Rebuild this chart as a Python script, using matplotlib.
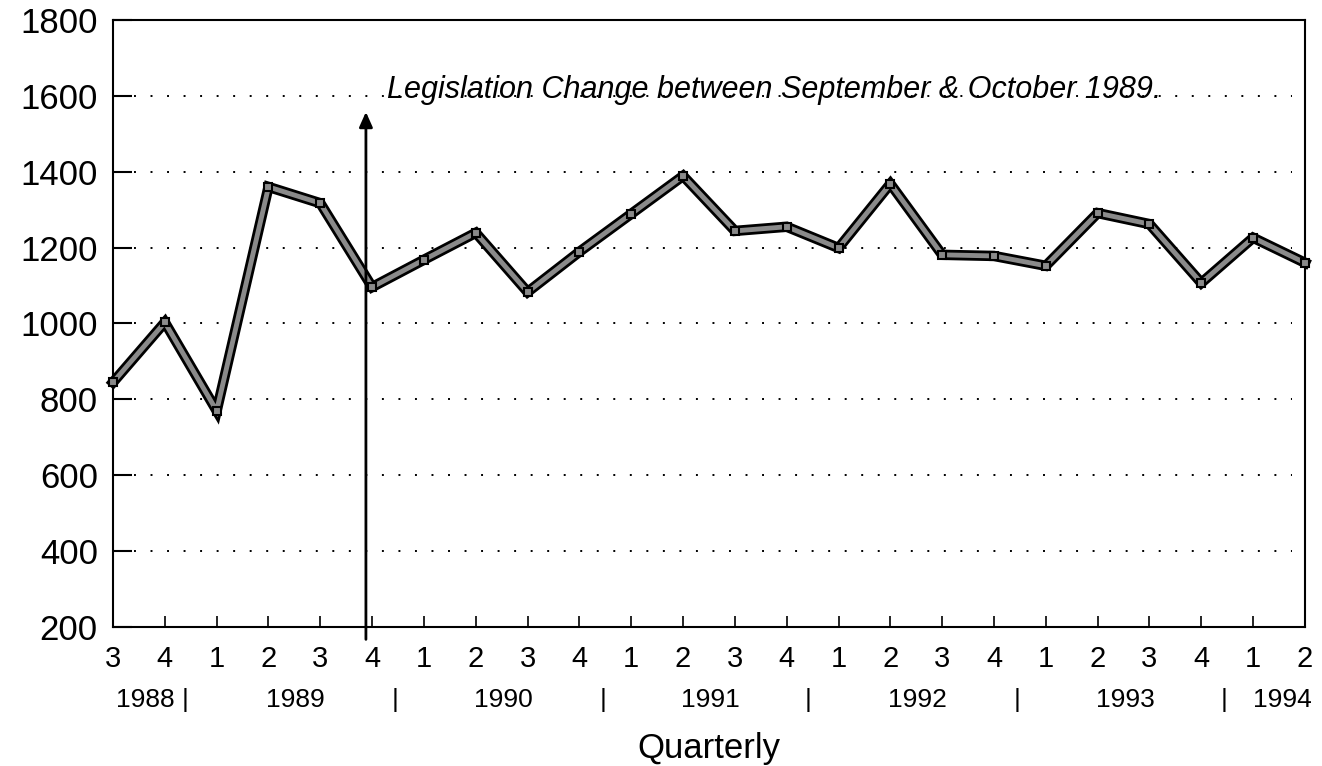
import matplotlib
matplotlib.use('Agg')
import matplotlib.pyplot as plt

plt.rcParams['font.family'] = ['Liberation Sans', 'DejaVu Sans']

# quarterly values, Q3 1988 .. Q2 1994
quarters = ['3', '4', '1', '2', '3', '4', '1', '2', '3', '4', '1', '2',
            '3', '4', '1', '2', '3', '4', '1', '2', '3', '4', '1', '2']
values = [845, 1003, 770, 1360, 1317, 1096, 1168, 1239, 1083, 1189, 1289, 1389,
          1244, 1255, 1199, 1368, 1181, 1178, 1152, 1291, 1262, 1107, 1226, 1160]
years = ['1988', '1989', '1990', '1991', '1992', '1993', '1994']
year_pos = [0.62, 3.51, 7.53, 11.53, 15.52, 19.54, 22.57]
sep_pos = [1.39, 5.44, 9.46, 13.42, 17.45, 21.43]
yticks = [200, 400, 600, 800, 1000, 1200, 1400, 1600, 1800]

x = list(range(len(values)))

fig = plt.figure(figsize=(13.22, 7.66), dpi=100)
ax = fig.add_axes([0.0855, 0.1815, 0.9016, 0.7924])

# dotted grid
ax.hlines(yticks[1:-1], 0.4, 22.75, colors='black', linestyles=(0, (1, 7.5)), linewidth=1.4)

# thick outlined line
ax.plot(x, values, color='black', linewidth=7.5, solid_joinstyle='miter', clip_on=False, zorder=3)
ax.plot(x, values, color='#8a8a8a', linewidth=3.5, solid_joinstyle='miter', clip_on=False, zorder=4)
ax.plot(x, values, linestyle='none', marker='s', markersize=6, markerfacecolor='#8a8a8a',
        markeredgecolor='black', markeredgewidth=1.5, clip_on=False, zorder=5)

# legislation marker
ax.annotate('', xy=(4.88, 1565), xytext=(4.88, 160), xycoords='data',
            arrowprops=dict(arrowstyle='-|>,head_length=0.9,head_width=0.4', color='black', lw=2),
            annotation_clip=False, zorder=6)
ax.text(5.29, 1594, 'Legislation Change between September & October 1989.',
        fontsize=22, style='italic', va='baseline', ha='left', zorder=7)

ax.set_xlim(0, 23)
ax.set_ylim(200, 1800)
ax.set_xticks(x)
ax.set_xticklabels(quarters, fontsize=21)
ax.set_yticks(yticks)
ax.set_yticklabels([str(v) for v in yticks], fontsize=25)
ax.tick_params(axis='y', direction='in', length=14, width=1.5, pad=11)
ax.tick_params(axis='x', direction='in', length=8, width=1.2, pad=13)
for s in ax.spines.values():
    s.set_linewidth(1.5)

for yr, p in zip(years, year_pos):
    ax.text(p, -0.12, yr, transform=ax.get_xaxis_transform(), ha='center', va='center', fontsize=19)
for p in sep_pos:
    ax.text(p, -0.12, '|', transform=ax.get_xaxis_transform(), ha='center', va='center', fontsize=19)

ax.text(0.5, -0.2, 'Quarterly', transform=ax.transAxes, ha='center', va='center', fontsize=25)

fig.savefig('out.png', dpi=100)
